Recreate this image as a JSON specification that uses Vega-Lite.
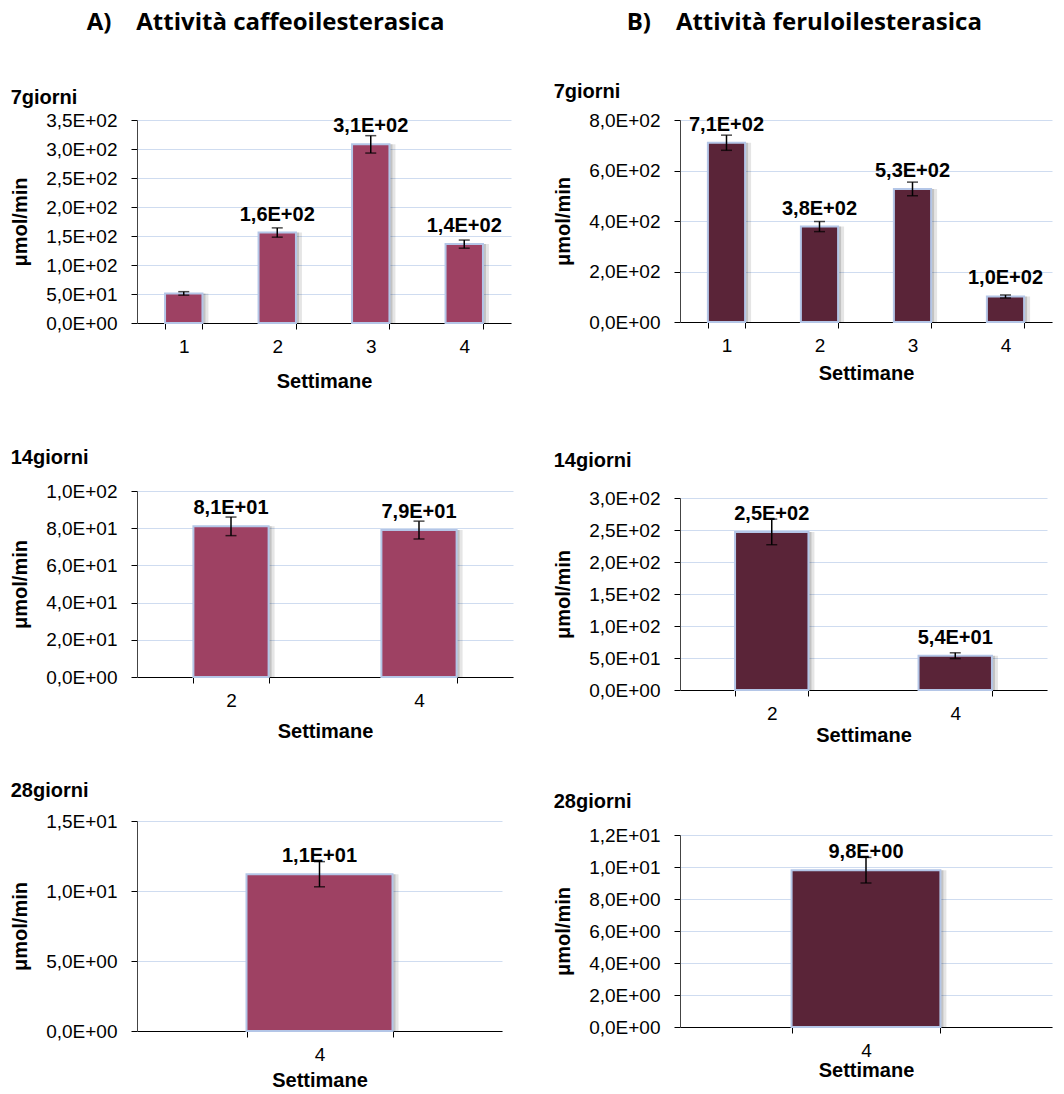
{
  "$schema": "https://vega.github.io/schema/vega-lite/v6.json",
  "padding": {"left": 10, "top": 11, "right": 4, "bottom": 4},
  "data": {"values": [
    {"panel": "A7", "week": 1, "value": 51, "err": 3, "label": ""},
    {"panel": "A7", "week": 2, "value": 156, "err": 8, "label": "1,6E+02"},
    {"panel": "A7", "week": 3, "value": 308, "err": 15, "label": "3,1E+02"},
    {"panel": "A7", "week": 4, "value": 136, "err": 7, "label": "1,4E+02"},
    {"panel": "B7", "week": 1, "value": 710, "err": 30, "label": "7,1E+02"},
    {"panel": "B7", "week": 2, "value": 378, "err": 20, "label": "3,8E+02"},
    {"panel": "B7", "week": 3, "value": 527, "err": 27, "label": "5,3E+02"},
    {"panel": "B7", "week": 4, "value": 101, "err": 6, "label": "1,0E+02"},
    {"panel": "A14", "week": 2, "value": 81, "err": 5, "label": "8,1E+01"},
    {"panel": "A14", "week": 4, "value": 79, "err": 4.8, "label": "7,9E+01"},
    {"panel": "B14", "week": 2, "value": 247, "err": 20, "label": "2,5E+02"},
    {"panel": "B14", "week": 4, "value": 53.6, "err": 4.5, "label": "5,4E+01"},
    {"panel": "A28", "week": 4, "value": 11.2, "err": 0.9, "label": "1,1E+01"},
    {"panel": "B28", "week": 4, "value": 9.8, "err": 0.8, "label": "9,8E+00"}
  ]},
  "spacing": 40,
  "align": "none",
  "hconcat": [
    {
      "title": {"text": "A)\u00a0\u00a0\u00a0\u00a0Attività caffeoilesterasica", "font": "Open Sans", "fontSize": 24, "dx": 76, "offset": 53},
      "spacing": 57,
      "align": "none",
      "vconcat": [
        {
          "width": 374, "height": 203,
          "title": {"text": "7giorni", "offset": 3},
          "transform": [{"filter": "datum.panel == 'A7'"}],
          "encoding": {
            "x": {"field": "week", "type": "ordinal", "title": "Settimane", "scale": {"paddingInner": 0.6, "paddingOuter": 0.3}, "axis": {"titlePadding": 15}},
            "y": {"field": "value", "type": "quantitative", "title": "μmol/min", "scale": {"domain": [0, 350]}, "axis": {"values": [0, 50, 100, 150, 200, 250, 300, 350]}}
          },
          "layer": [
            {"mark": {"type": "bar", "xOffset": 6, "fill": "#000", "opacity": 0.1}},
            {"mark": {"type": "bar", "xOffset": 3, "fill": "#000", "opacity": 0.15}},
            {"mark": {"type": "bar", "fill": "#9e4163", "stroke": "#b4c6e7", "strokeWidth": 2}},
            {"mark": {"type": "errorbar", "ticks": true, "color": "#000", "size": 11, "thickness": 1.5}, "encoding": {"yError": {"field": "err"}}},
            {"mark": {"type": "text", "baseline": "bottom", "dy": -8, "fontWeight": "bold", "fontSize": 20, "font": "Liberation Sans"}, "encoding": {"text": {"field": "label"}}}
          ]
        },
        {
          "spacing": 40,
          "align": "none",
          "vconcat": [
            {
              "width": 376, "height": 186,
              "title": {"text": "14giorni", "offset": 14},
              "transform": [{"filter": "datum.panel == 'A14'"}],
              "encoding": {
                "x": {"field": "week", "type": "ordinal", "title": "Settimane", "scale": {"paddingInner": 0.6, "paddingOuter": 0.3}, "axis": {"titlePadding": 11}},
                "y": {"field": "value", "type": "quantitative", "title": "μmol/min", "scale": {"domain": [0, 100]}, "axis": {"values": [0, 20, 40, 60, 80, 100]}}
              },
              "layer": [
                {"mark": {"type": "bar", "xOffset": 6, "fill": "#000", "opacity": 0.1}},
                {"mark": {"type": "bar", "xOffset": 3, "fill": "#000", "opacity": 0.15}},
                {"mark": {"type": "bar", "fill": "#9e4163", "stroke": "#b4c6e7", "strokeWidth": 2}},
                {"mark": {"type": "errorbar", "ticks": true, "color": "#000", "size": 11, "thickness": 1.5}, "encoding": {"yError": {"field": "err"}}},
                {"mark": {"type": "text", "baseline": "bottom", "dy": -8, "fontWeight": "bold", "fontSize": 20, "font": "Liberation Sans"}, "encoding": {"text": {"field": "label"}}}
              ]
            },
            {
              "width": 365, "height": 210,
              "title": {"text": "28giorni", "offset": 11},
              "transform": [{"filter": "datum.panel == 'A28'"}],
              "encoding": {
                "x": {"field": "week", "type": "ordinal", "title": "Settimane", "scale": {"paddingInner": 0.6, "paddingOuter": 0.3}, "axis": {"titlePadding": 6}},
                "y": {"field": "value", "type": "quantitative", "title": "μmol/min", "scale": {"domain": [0, 15]}, "axis": {"values": [0, 5, 10, 15]}}
              },
              "layer": [
                {"mark": {"type": "bar", "xOffset": 6, "fill": "#000", "opacity": 0.1}},
                {"mark": {"type": "bar", "xOffset": 3, "fill": "#000", "opacity": 0.15}},
                {"mark": {"type": "bar", "fill": "#9e4163", "stroke": "#b4c6e7", "strokeWidth": 2}},
                {"mark": {"type": "errorbar", "ticks": true, "color": "#000", "size": 11, "thickness": 1.5}, "encoding": {"yError": {"field": "err"}}},
                {"mark": {"type": "text", "baseline": "bottom", "dy": -8, "fontWeight": "bold", "fontSize": 20, "font": "Liberation Sans"}, "encoding": {"text": {"field": "label"}}}
              ]
            }
          ]
        }
      ]
    },
    {
      "title": {"text": "B)\u00a0\u00a0\u00a0\u00a0Attività feruloilesterasica", "font": "Open Sans", "fontSize": 24, "dx": 73, "offset": 47},
      "spacing": 68,
      "align": "none",
      "vconcat": [
        {
          "width": 372, "height": 202,
          "title": {"text": "7giorni", "offset": 9},
          "transform": [{"filter": "datum.panel == 'B7'"}],
          "encoding": {
            "x": {"field": "week", "type": "ordinal", "title": "Settimane", "scale": {"paddingInner": 0.6, "paddingOuter": 0.3}, "axis": {"titlePadding": 8}},
            "y": {"field": "value", "type": "quantitative", "title": "μmol/min", "scale": {"domain": [0, 800]}, "axis": {"values": [0, 200, 400, 600, 800]}}
          },
          "layer": [
            {"mark": {"type": "bar", "xOffset": 6, "fill": "#000", "opacity": 0.1}},
            {"mark": {"type": "bar", "xOffset": 3, "fill": "#000", "opacity": 0.15}},
            {"mark": {"type": "bar", "fill": "#5a2438", "stroke": "#b4c6e7", "strokeWidth": 2}},
            {"mark": {"type": "errorbar", "ticks": true, "color": "#000", "size": 11, "thickness": 1.5}, "encoding": {"yError": {"field": "err"}}},
            {"mark": {"type": "text", "baseline": "bottom", "dy": -8, "fontWeight": "bold", "fontSize": 20, "font": "Liberation Sans"}, "encoding": {"text": {"field": "label"}}}
          ]
        },
        {
          "spacing": 47,
          "align": "none",
          "vconcat": [
            {
              "width": 367, "height": 192,
              "title": {"text": "14giorni", "offset": 18},
              "transform": [{"filter": "datum.panel == 'B14'"}],
              "encoding": {
                "x": {"field": "week", "type": "ordinal", "title": "Settimane", "scale": {"paddingInner": 0.6, "paddingOuter": 0.3}, "axis": {"titlePadding": 2}},
                "y": {"field": "value", "type": "quantitative", "title": "μmol/min", "scale": {"domain": [0, 300]}, "axis": {"values": [0, 50, 100, 150, 200, 250, 300]}}
              },
              "layer": [
                {"mark": {"type": "bar", "xOffset": 6, "fill": "#000", "opacity": 0.1}},
                {"mark": {"type": "bar", "xOffset": 3, "fill": "#000", "opacity": 0.15}},
                {"mark": {"type": "bar", "fill": "#5a2438", "stroke": "#b4c6e7", "strokeWidth": 2}},
                {"mark": {"type": "errorbar", "ticks": true, "color": "#000", "size": 11, "thickness": 1.5}, "encoding": {"yError": {"field": "err"}}},
                {"mark": {"type": "text", "baseline": "bottom", "dy": -8, "fontWeight": "bold", "fontSize": 20, "font": "Liberation Sans"}, "encoding": {"text": {"field": "label"}}}
              ]
            },
            {
              "width": 372, "height": 192,
              "title": {"text": "28giorni", "offset": 14},
              "transform": [{"filter": "datum.panel == 'B28'"}],
              "encoding": {
                "x": {"field": "week", "type": "ordinal", "title": "Settimane", "scale": {"paddingInner": 0.6, "paddingOuter": 0.3}, "axis": {"titlePadding": 0}},
                "y": {"field": "value", "type": "quantitative", "title": "μmol/min", "scale": {"domain": [0, 12]}, "axis": {"values": [0, 2, 4, 6, 8, 10, 12]}}
              },
              "layer": [
                {"mark": {"type": "bar", "xOffset": 6, "fill": "#000", "opacity": 0.1}},
                {"mark": {"type": "bar", "xOffset": 3, "fill": "#000", "opacity": 0.15}},
                {"mark": {"type": "bar", "fill": "#5a2438", "stroke": "#b4c6e7", "strokeWidth": 2}},
                {"mark": {"type": "errorbar", "ticks": true, "color": "#000", "size": 11, "thickness": 1.5}, "encoding": {"yError": {"field": "err"}}},
                {"mark": {"type": "text", "baseline": "bottom", "dy": -8, "fontWeight": "bold", "fontSize": 20, "font": "Liberation Sans"}, "encoding": {"text": {"field": "label"}}}
              ]
            }
          ]
        }
      ]
    }
  ],
  "config": {
    "view": {"stroke": null},
    "title": {"anchor": "start", "frame": "bounds", "font": "Liberation Sans", "fontSize": 20, "fontWeight": "bold", "color": "#000"},
    "axis": {"labelFont": "Liberation Sans", "labelFontSize": 19, "labelColor": "#000", "titleFont": "Liberation Sans", "titleFontSize": 20, "titleFontWeight": "bold", "titleColor": "#000", "domainColor": "#000", "tickColor": "#000", "gridColor": "#cfdcf0", "tickSize": 6},
    "axisX": {"grid": false, "tickBand": "extent", "labelAngle": 0, "labelPadding": 8},
    "axisY": {"grid": true, "labelPadding": 14, "titlePadding": 15, "domainColor": "#444", "labelExpr": "replace(replace(format(datum.value, '.1e'), '.', ','), 'e+', 'E+0')"}
  }
}
